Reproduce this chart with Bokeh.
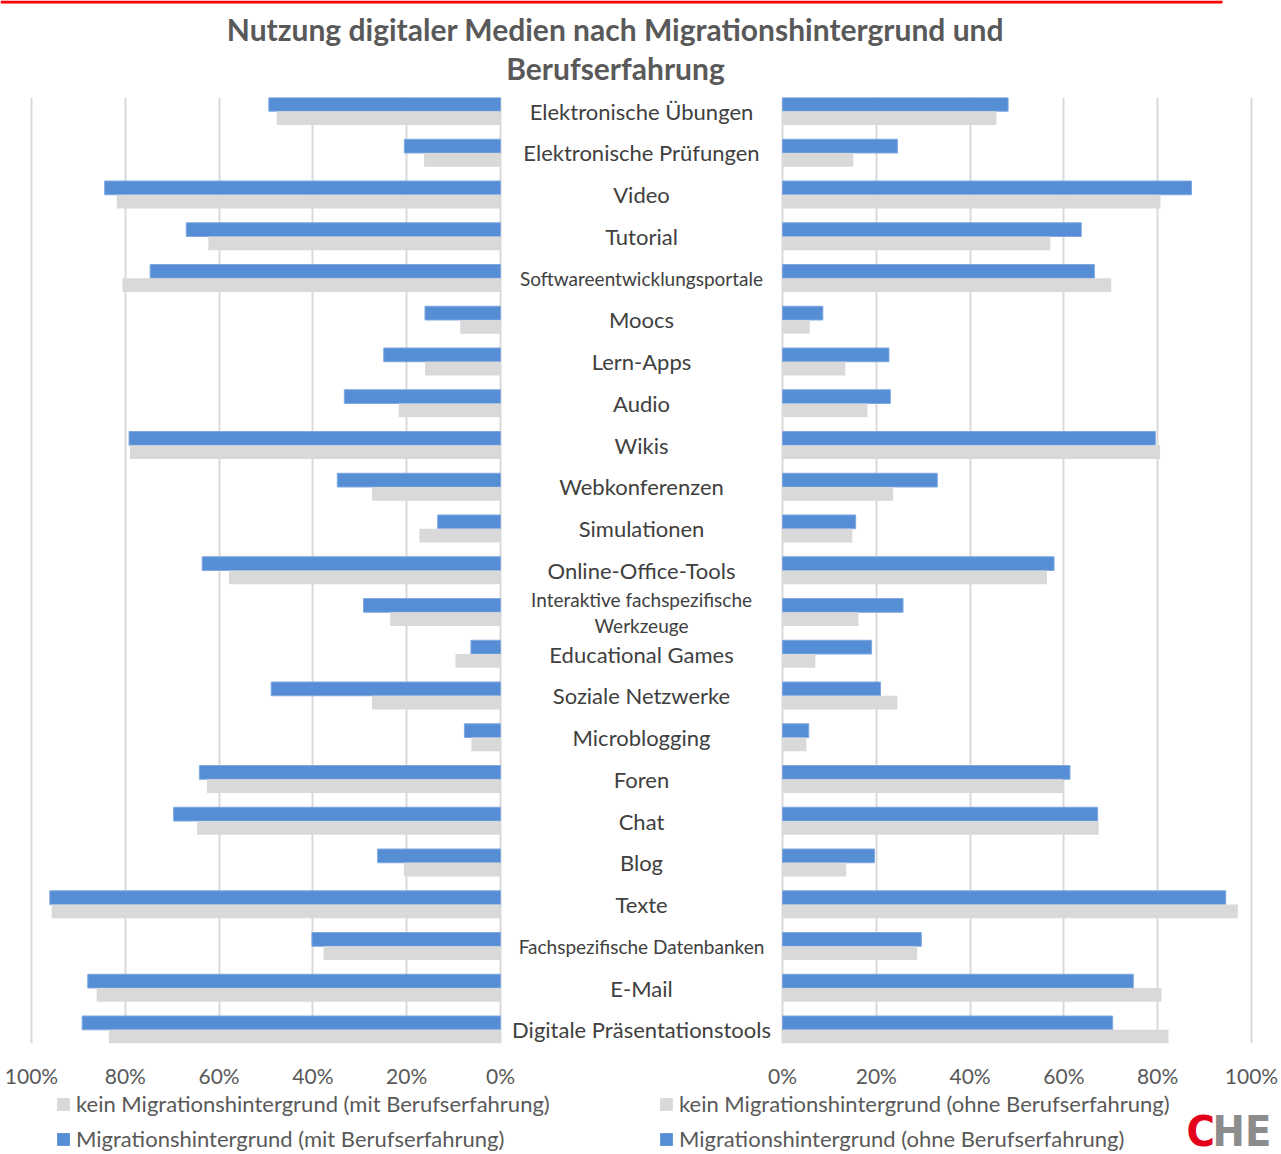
from bokeh.plotting import figure
from bokeh.layouts import column
from bokeh.models import (Range1d, FactorRange, FixedTicker, CustomJSTickFormatter,
                          ColumnDataSource, Legend, LegendItem)
from bokeh.transform import dodge
from bokeh.core.properties import value
from bokeh.embed import file_html
from bokeh.resources import INLINE

# ---------------- data ----------------
categories = [
    "Elektronische Übungen", "Elektronische Prüfungen", "Video", "Tutorial",
    "Softwareentwicklungsportale", "Moocs", "Lern-Apps", "Audio", "Wikis",
    "Webkonferenzen", "Simulationen", "Online-Office-Tools",
    "Interaktive fachspezifische Werkzeuge", "Educational Games",
    "Soziale Netzwerke", "Microblogging", "Foren", "Chat", "Blog", "Texte",
    "Fachspezifische Datenbanken", "E-Mail", "Digitale Präsentationstools",
]
# left panel (mit Berufserfahrung)
mig_mit = [49.4, 20.5, 84.4, 67.0, 74.7, 16.1, 24.9, 33.3, 79.2, 34.8, 13.4, 63.6,
           29.2, 6.3, 48.9, 7.7, 64.2, 69.7, 26.2, 96.1, 40.2, 88.0, 89.2]
kein_mit = [47.7, 16.3, 81.8, 62.3, 80.6, 8.6, 16.1, 21.7, 79.0, 27.4, 17.3, 57.9,
            23.5, 9.6, 27.4, 6.2, 62.6, 64.7, 20.6, 95.7, 37.7, 86.1, 83.5]
# right panel (ohne Berufserfahrung)
mig_ohne = [48.1, 24.5, 87.2, 63.7, 66.5, 8.6, 22.7, 23.0, 79.5, 33.0, 15.6, 57.9,
            25.7, 19.0, 20.9, 5.6, 61.3, 67.2, 19.6, 94.5, 29.6, 74.8, 70.4]
kein_ohne = [45.6, 15.1, 80.6, 57.1, 70.1, 5.8, 13.4, 18.1, 80.5, 23.6, 14.9, 56.4,
             16.2, 7.0, 24.5, 5.1, 59.8, 67.4, 13.6, 97.1, 28.7, 80.8, 82.3]
ticks = [0, 20, 40, 60, 80, 100]

legend_labels = [
    "kein Migrationshintergrund (mit Berufserfahrung)",
    "Migrationshintergrund (mit Berufserfahrung)",
    "kein Migrationshintergrund (ohne Berufserfahrung)",
    "Migrationshintergrund (ohne Berufserfahrung)",
]
title_text = "Nutzung digitaler Medien nach Migrationshintergrund und\nBerufserfahrung"

# ---------------- style / layout ----------------
W = 1281
HEAD_H = 97                      # header strip height (title + red rule)
FRAME_H = 946                    # bar area height
AXIS_H = 47                      # tick-label strip under the bars
FOOT_H = 1154 - HEAD_H - FRAME_H - AXIS_H
PX = 4.69                        # pixels per percentage point
ZERO_L, ZERO_R = 500, 782        # pixel position of the two 0 % lines
FL, FR = 20, 1262                # frame edges in px
GAP = (ZERO_R - ZERO_L) / PX     # middle label column (in % units)
BAR = 0.329
BLUE = "#558ED5"
GRAY = "#D9D9D9"
TXT = "#404040"
AXT = "#595959"
FONT = "Lato"
LOGO_FONT = value("'Liberation Sans Narrow', 'DejaVu Sans Condensed', Roboto, sans-serif")
SMALL = {"Softwareentwicklungsportale", "Fachspezifische Datenbanken",
         "Interaktive fachspezifische Werkzeuge"}


def bare(fig):
    fig.outline_line_color = None
    fig.background_fill_color = "white"
    fig.border_fill_color = "white"
    for g in fig.grid:
        g.visible = False


# ---------- header ----------
head = figure(width=W, height=HEAD_H, output_backend="svg", toolbar_location=None,
              x_range=Range1d(0, W), y_range=Range1d(HEAD_H, 0),
              x_axis_location=None, y_axis_location=None, min_border=0,
              frame_align=False)
bare(head)
head.quad(left=0, right=1222, top=0, bottom=3, fill_color="#FF0000", line_color=None)
head.text(x=[615], y=[48], text=[title_text], text_align="center", text_baseline="middle",
          text_font=value(FONT), text_font_style="bold", text_font_size="30px",
          text_color=AXT, text_line_height=1.08)

# ---------- main chart ----------
p = figure(width=W, height=FRAME_H + AXIS_H, output_backend="svg", toolbar_location=None,
           x_range=Range1d(-(ZERO_R - FL) / PX, (FR - ZERO_R) / PX),
           y_range=FactorRange(factors=list(reversed(categories)),
                               range_padding=-(1 - 2 * BAR) / 2,
                               range_padding_units="absolute"),
           y_axis_location=None,
           min_border_left=FL, min_border_right=W - FR,
           min_border_top=0, min_border_bottom=AXIS_H, frame_align=False)
p.extra_x_ranges = {"left": Range1d((ZERO_L - FL) / PX, -(FR - ZERO_L) / PX)}
p.outline_line_color = None
p.background_fill_color = "white"
p.border_fill_color = "white"

src = ColumnDataSource(dict(cat=categories, mig_mit=mig_mit, kein_mit=kein_mit,
                            mig_ohne=mig_ohne, kein_ohne=kein_ohne))

p.hbar(y=dodge("cat", BAR / 2, range=p.y_range), left="mig_mit", right=0,
       height=BAR, source=src, x_range_name="left", fill_color=BLUE,
       line_color="#7FA8E0", line_width=1)
p.hbar(y=dodge("cat", -BAR / 2, range=p.y_range), left="kein_mit", right=0,
       height=BAR, source=src, x_range_name="left", fill_color=GRAY, line_color=None)
p.hbar(y=dodge("cat", BAR / 2, range=p.y_range), left=0, right="mig_ohne",
       height=BAR, source=src, fill_color=BLUE, line_color="#7FA8E0", line_width=1)
p.hbar(y=dodge("cat", -BAR / 2, range=p.y_range), left=0, right="kein_ohne",
       height=BAR, source=src, fill_color=GRAY, line_color=None)

ax = p.xaxis[0]
ax.ticker = FixedTicker(ticks=[-GAP - t for t in ticks] + ticks)
ax.formatter = CustomJSTickFormatter(args=dict(gap=GAP), code="""
    const v = tick < -gap / 2 ? -tick - gap : tick;
    return Math.round(v) + '%';
""")
ax.axis_line_color = None
ax.major_tick_line_color = None
ax.minor_tick_line_color = None
ax.major_label_text_font = FONT
ax.major_label_text_font_size = "21px"
ax.major_label_text_color = AXT
ax.major_label_standoff = 13

for g in p.grid:
    if g.dimension == 0:
        g.grid_line_color = GRAY
        g.grid_line_width = 2
    else:
        g.visible = False

norm = [c for c in categories if c not in SMALL]
small = [c for c in categories if c in SMALL]
small_txt = [c.replace("fachspezifische ", "fachspezifische\n") for c in small]
p.text(x=-GAP / 2, y=norm, text=norm, text_align="center", text_baseline="middle",
       text_font=value(FONT), text_font_size="22px", text_color=TXT)
p.text(x=-GAP / 2, y=small, text=small_txt, text_align="center", text_baseline="middle",
       text_font=value(FONT), text_font_size="19px", text_color=TXT, text_line_height=1.14)

# ---------- footer: legend + logo ----------
foot = figure(width=W, height=FOOT_H, output_backend="svg", toolbar_location=None,
              x_range=Range1d(0, W), y_range=Range1d(FOOT_H, 0),
              x_axis_location=None, y_axis_location=None, min_border=0,
              frame_align=False)
bare(foot)
nan = float("nan")
swatch = ColumnDataSource(dict(y=[nan], l=[nan], r=[nan]))
lg_gray = foot.hbar(y="y", left="l", right="r", height=1, source=swatch,
                    fill_color=GRAY, line_color=None)
lg_blue = foot.hbar(y="y", left="l", right="r", height=1, source=swatch,
                    fill_color=BLUE, line_color=None)
legend = Legend(items=[LegendItem(label=legend_labels[0], renderers=[lg_gray]),
                       LegendItem(label=legend_labels[1], renderers=[lg_blue]),
                       LegendItem(label=legend_labels[2], renderers=[lg_gray]),
                       LegendItem(label=legend_labels[3], renderers=[lg_blue])],
                location=(55, 2), orientation="vertical", ncols=2,
                border_line_color=None, background_fill_alpha=0,
                padding=0, margin=0, spacing=8, label_standoff=5,
                glyph_width=16, glyph_height=16, label_width=574,
                label_text_font=FONT, label_text_font_size="22px",
                label_text_color=AXT)
foot.add_layout(legend, "center")

top0 = 1154 - FOOT_H
foot.text(x=[1186], y=[1105 - top0], text=["C"], text_align="left",
          text_baseline="top", text_font=LOGO_FONT, text_font_style="bold",
          text_font_size="43px", text_color="#E2001A")
foot.text(x=[1212], y=[1105 - top0], text=["HE"], text_align="left",
          text_baseline="top", text_font=LOGO_FONT, text_font_style="bold",
          text_font_size="43px", text_color="#8C8C8C")

layout = column(head, p, foot, spacing=0)
open("out.html", "w").write(file_html(layout, INLINE))
